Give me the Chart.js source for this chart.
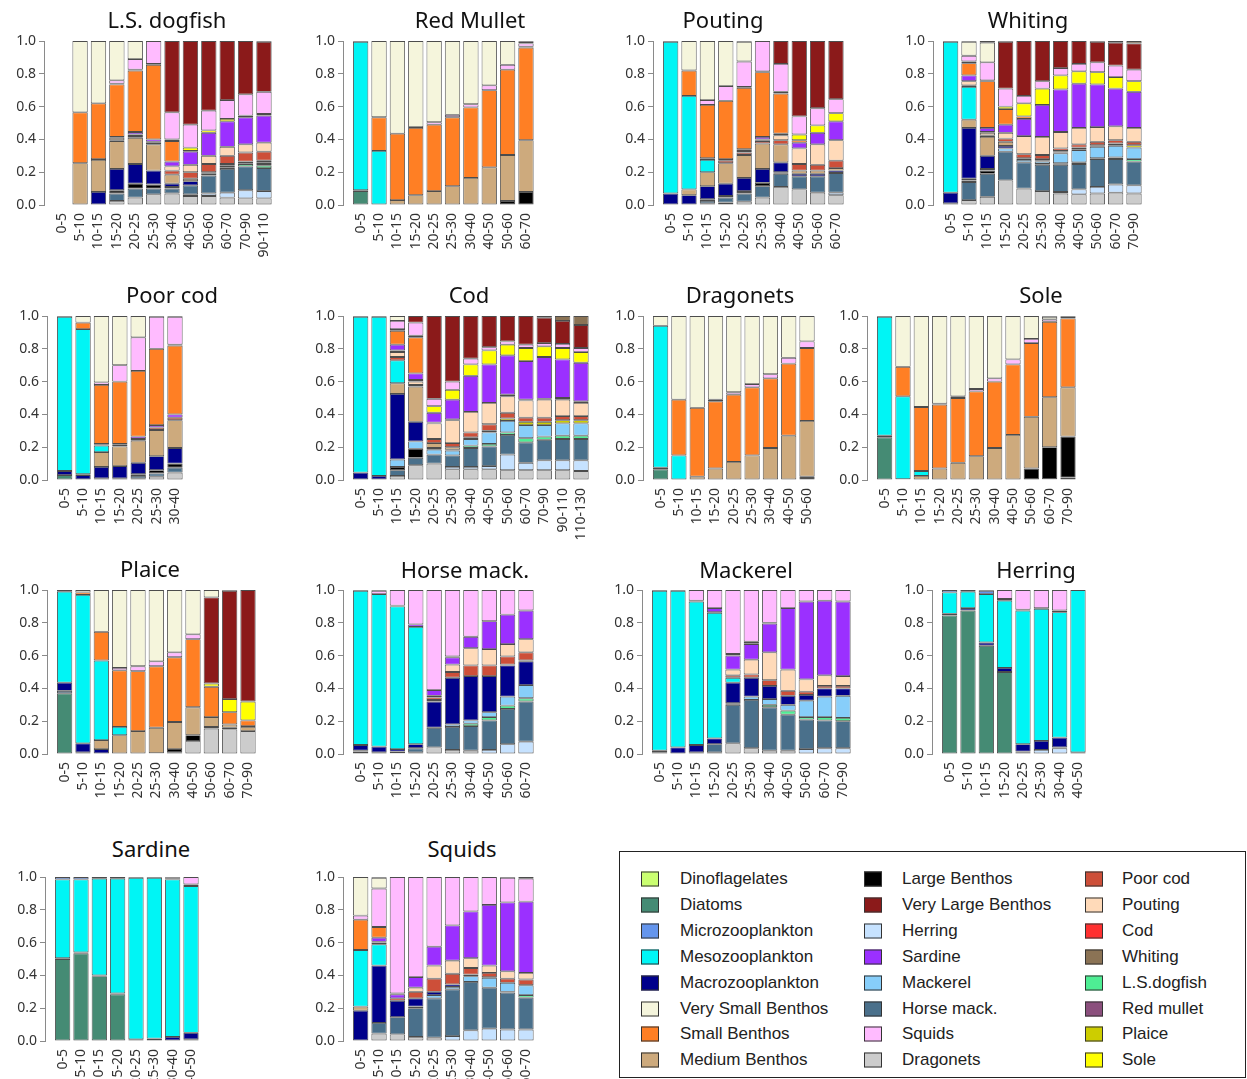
<!DOCTYPE html>
<html>
<head>
<meta charset="utf-8">
<script src="https://cdn.jsdelivr.net/npm/chart.js@4.4.1/dist/chart.umd.min.js"></script>
<style>
  html, body { margin: 0; padding: 0; background: #fff; }
  body { width: 1247px; height: 1079px; overflow: hidden; position: relative; }
  canvas { position: absolute; }
  .ptitle { position: absolute; transform: translate(-50%, -50%); font: 22px "Noto Sans", sans-serif; color: #111; white-space: nowrap; }
  #legend { position: absolute; left: 619px; top: 851px; width: 627px; height: 227px; border: 1px solid #222; box-sizing: border-box; }
  .lg-item { position: absolute; font: 17px "Liberation Sans", Arial, sans-serif; color: #222; white-space: nowrap; transform: translateY(-50%); }
  .lg-sw { position: absolute; width: 16px; height: 13px; border: 1px solid #333; transform: translateY(-50%); }
</style>
</head>
<body>
<div id="legend"></div>
<script>
// Prey groups, in the order they are stacked from the bottom of each bar
const preyOrder = ['COD','DIA','DIN','DRA','HER','HMA','LSD','LB','MAC','MAZ','MB','MEZ','MIZ','PLA','PC','POU','RM','SAR','SB','SOL','SQ','VLB','VSB','WHI'];
const preyNames = {
  DIN: 'Dinoflagelates', DIA: 'Diatoms', MIZ: 'Microzooplankton', MEZ: 'Mesozooplankton',
  MAZ: 'Macrozooplankton', VSB: 'Very Small Benthos', SB: 'Small Benthos', MB: 'Medium Benthos',
  LB: 'Large Benthos', VLB: 'Very Large Benthos', HER: 'Herring', SAR: 'Sardine',
  MAC: 'Mackerel', HMA: 'Horse mack.', SQ: 'Squids', DRA: 'Dragonets',
  PC: 'Poor cod', POU: 'Pouting', COD: 'Cod', WHI: 'Whiting',
  LSD: 'L.S.dogfish', RM: 'Red mullet', PLA: 'Plaice', SOL: 'Sole'
};
const preyColors = {
  DIN: '#caff70', DIA: '#458b74', MIZ: '#6495ed', MEZ: '#00f5f5',
  MAZ: '#00008b', VSB: '#f5f5dc', SB: '#ff7f24', MB: '#cdaa7d',
  LB: '#000000', VLB: '#8b1a1a', HER: '#c6e2ff', SAR: '#9b30ff',
  MAC: '#87cefa', HMA: '#4a708b', SQ: '#ffbbff', DRA: '#cccccc',
  PC: '#cd4f39', POU: '#ffdab9', COD: '#ff3030', WHI: '#8b7355',
  LSD: '#4eee94', RM: '#8b4f7d', PLA: '#cdcd00', SOL: '#ffff00'
};
// Legend layout: three columns of eight
const legendColumns = [
  ['DIN','DIA','MIZ','MEZ','MAZ','VSB','SB','MB'],
  ['LB','VLB','HER','SAR','MAC','HMA','SQ','DRA'],
  ['PC','POU','COD','WHI','LSD','RM','PLA','SOL']
];

// Predator length classes (cm) and diet proportions per class
const dogfishBins = ['0-5','5-10','10-15','15-20','20-25','25-30','30-40','40-50','50-60','60-70','70-90','90-110'];
const dogfishDiet = [
  {},
  {MB:.255, SB:.31, VSB:.435},
  {MAZ:.08, MB:.195, RM:.005, SB:.34, VSB:.38},
  {DRA:.025, HMA:.045, LB:.02, MAZ:.13, MB:.17, PC:.005, POU:.015, SAR:.005, SB:.32, SOL:.005, SQ:.02, VSB:.24},
  {DRA:.045, HMA:.055, LB:.03, MAZ:.12, MB:.16, PC:.01, POU:.01, SAR:.015, SB:.375, SOL:.005, SQ:.065, VSB:.11},
  {DRA:.065, HMA:.035, LB:.025, MAZ:.085, MB:.16, PC:.01, POU:.005, SAR:.015, SB:.455, SOL:.005, SQ:.14},
  {DRA:.07, HMA:.03, LB:.01, MAZ:.02, MB:.055, PC:.025, POU:.025, SAR:.03, SB:.125, SOL:.01, SQ:.165, VLB:.435},
  {DRA:.055, HER:.01, HMA:.055, MAZ:.025, MB:.015, PC:.04, POU:.045, SAR:.08, SB:.005, SOL:.02, SQ:.14, VLB:.51},
  {DRA:.055, HER:.015, HMA:.11, MAZ:.01, MB:.01, PC:.05, POU:.05, SAR:.14, SOL:.015, SQ:.12, VLB:.425},
  {DRA:.045, HER:.03, HMA:.145, LSD:.01, MAZ:.01, MB:.01, PC:.05, POU:.055, SAR:.155, SOL:.015, SQ:.115, VLB:.36},
  {DRA:.04, HER:.05, HMA:.145, LSD:.015, MAZ:.005, MB:.01, PC:.055, POU:.05, SAR:.165, SOL:.01, SQ:.13, VLB:.325},
  {DRA:.04, HER:.045, HMA:.14, LSD:.015, MAC:.01, MAZ:.01, MB:.01, PC:.055, POU:.055, SAR:.165, SOL:.01, SQ:.135, VLB:.305, WHI:.005}
];

const redMulletBins = ['0-5','5-10','10-15','15-20','20-25','25-30','30-40','40-50','50-60','60-70'];
const redMulletDiet = [
  {DIA:.085, MAZ:.005, MEZ:.905, MIZ:.005},
  {MEZ:.33, SB:.205, VSB:.465},
  {MB:.03, SB:.405, VSB:.565},
  {MB:.06, SB:.41, SQ:.005, VSB:.525},
  {MB:.085, SB:.405, SQ:.015, VSB:.495},
  {MB:.115, SB:.42, SQ:.015, VSB:.45},
  {MB:.165, SB:.43, SQ:.02, VSB:.385},
  {MB:.23, SB:.47, SQ:.03, VSB:.27},
  {LB:.025, MB:.28, SB:.52, SQ:.03, VSB:.145},
  {LB:.08, MB:.315, SB:.565, SOL:.005, SQ:.02, VSB:.01, WHI:.005}
];

const poutingBins = ['0-5','5-10','10-15','15-20','20-25','25-30','30-40','40-50','50-60','60-70'];
const poutingDiet = [
  {MAZ:.07, MEZ:.925, MIZ:.005},
  {MAZ:.06, MB:.035, MEZ:.57, SB:.155, VSB:.18},
  {DRA:.01, HMA:.015, LB:.01, MAZ:.08, MB:.085, MEZ:.075, PC:.005, SAR:.005, SB:.325, SQ:.03, VSB:.36},
  {DRA:.015, HMA:.03, LB:.01, MAZ:.075, MB:.125, PC:.015, RM:.005, SAR:.005, SB:.355, SQ:.09, VSB:.275},
  {DRA:.02, HMA:.05, LB:.015, MAZ:.08, MB:.14, PC:.015, RM:.01, SAR:.01, SB:.375, SOL:.005, SQ:.155, VSB:.12, WHI:.005},
  {DRA:.045, HMA:.07, LB:.02, MAZ:.085, MB:.155, PC:.015, POU:.005, RM:.005, SAR:.015, SB:.395, SOL:.005, SQ:.185},
  {DRA:.11, HMA:.08, LB:.01, MAZ:.06, MB:.11, PC:.025, POU:.03, SAR:.01, SB:.245, SOL:.01, SQ:.17, VLB:.14},
  {DRA:.095, HMA:.08, MAZ:.015, MB:.02, PC:.04, POU:.095, SAR:.035, SB:.015, SOL:.035, SQ:.11, VLB:.46},
  {DRA:.075, HMA:.10, MAZ:.015, MB:.02, PC:.035, POU:.125, SAR:.07, SOL:.045, SQ:.105, VLB:.41},
  {DRA:.06, HER:.015, HMA:.12, MAZ:.015, MB:.015, PC:.045, POU:.125, SAR:.115, SOL:.05, SQ:.085, VLB:.355}
];

const whitingBins = ['0-5','5-10','10-15','15-20','20-25','25-30','30-40','40-50','50-60','60-70','70-90'];
const whitingDiet = [
  {HMA:.01, MAZ:.065, MEZ:.92, MIZ:.005},
  {DRA:.03, HMA:.11, LB:.01, MAC:.01, MAZ:.31, MB:.05, MEZ:.20, PC:.01, POU:.025, SAR:.035, SB:.075, SOL:.01, SQ:.035, VSB:.085, WHI:.005},
  {DRA:.05, HMA:.14, LB:.02, MAC:.01, MAZ:.08, MB:.115, PC:.01, POU:.015, RM:.005, SAR:.025, SB:.285, SOL:.005, SQ:.11, VSB:.12, WHI:.01},
  {DRA:.15, HMA:.175, MAC:.02, MAZ:.015, MB:.025, PC:.02, POU:.035, SAR:.05, SB:.095, SOL:.015, SQ:.11, VLB:.285, WHI:.005},
  {DRA:.10, HMA:.16, MAC:.015, MB:.01, PC:.025, POU:.11, SAR:.105, SB:.015, SOL:.08, SQ:.045, VLB:.335},
  {DRA:.085, HMA:.16, LSD:.005, MAC:.015, MAZ:.005, MB:.01, PC:.025, POU:.11, SAR:.195, SOL:.10, SQ:.045, VLB:.245},
  {DRA:.07, HER:.01, HMA:.165, LSD:.01, MAC:.06, MAZ:.005, MB:.005, PLA:.005, PC:.015, POU:.10, SAR:.26, SOL:.085, SQ:.045, VLB:.165},
  {DRA:.065, HER:.03, HMA:.155, LSD:.01, MAC:.075, MB:.005, PLA:.01, PC:.02, POU:.10, SAR:.27, SOL:.075, SQ:.045, VLB:.14},
  {DRA:.07, HER:.04, HMA:.17, LSD:.005, MAC:.07, PLA:.01, PC:.02, POU:.09, SAR:.26, SOL:.075, SQ:.06, VLB:.125, WHI:.005},
  {DRA:.075, HER:.05, HMA:.155, LSD:.01, MAC:.07, MB:.005, PLA:.01, PC:.02, POU:.085, SAR:.23, SOL:.07, SQ:.07, VLB:.14, WHI:.01},
  {DRA:.07, HER:.05, HMA:.145, LSD:.015, MAC:.07, PLA:.015, PC:.02, POU:.085, SAR:.22, SOL:.065, SQ:.07, VLB:.16, WHI:.015}
];

const poorCodBins = ['0-5','5-10','10-15','15-20','20-25','25-30','30-40'];
const poorCodDiet = [
  {DIA:.03, MAZ:.025, MEZ:.94, MIZ:.005},
  {MAZ:.03, MB:.005, MEZ:.885, SB:.04, VSB:.04},
  {DRA:.01, MAZ:.07, MB:.09, MEZ:.04, MIZ:.005, PC:.005, SB:.36, SQ:.015, VSB:.405},
  {HMA:.01, MAZ:.075, MB:.12, PC:.01, SAR:.005, SB:.38, SQ:.10, VSB:.30},
  {DRA:.01, HMA:.015, LB:.01, MAZ:.07, MB:.135, PC:.01, SAR:.015, SB:.40, SQ:.205, VSB:.13},
  {DRA:.02, HMA:.02, LB:.02, MAZ:.085, MB:.16, PC:.015, SAR:.015, SB:.465, SQ:.195, VLB:.005},
  {DRA:.045, HMA:.03, LB:.025, MAZ:.095, MB:.17, PC:.015, SAR:.02, SB:.42, SOL:.005, SQ:.17, VLB:.005}
];

const codBins = ['0-5','5-10','10-15','15-20','20-25','25-30','30-40','40-50','50-60','60-70','70-90','90-110','110-130'];
const codDiet = [
  {MAZ:.045, MEZ:.95, MIZ:.005},
  {MAZ:.025, MEZ:.97, MIZ:.005},
  {DRA:.025, HMA:.035, LB:.02, MAC:.045, MAZ:.40, MB:.065, MEZ:.14, PC:.02, POU:.03, RM:.01, SAR:.035, SB:.085, SOL:.01, SQ:.05, VSB:.03},
  {DRA:.09, HMA:.045, LB:.055, MAC:.045, MAZ:.12, MB:.215, PC:.01, POU:.02, RM:.01, SAR:.04, SB:.22, SOL:.01, SQ:.08, VLB:.04},
  {DRA:.10, HMA:.055, MAC:.03, MAZ:.01, MB:.03, PC:.025, POU:.095, RM:.005, SAR:.06, SOL:.04, SQ:.045, VLB:.505},
  {DRA:.065, HER:.015, HMA:.07, MAC:.03, MAZ:.005, MB:.015, PC:.025, POU:.14, RM:.005, SAR:.12, SOL:.06, SQ:.05, VLB:.40},
  {DRA:.065, HER:.015, HMA:.115, LSD:.015, MAC:.04, MB:.01, PC:.03, POU:.125, SAR:.22, SOL:.07, SQ:.035, VLB:.26},
  {DRA:.065, HER:.02, HMA:.12, LSD:.015, MAC:.07, PLA:.01, PC:.04, POU:.13, SAR:.235, SOL:.085, SQ:.02, VLB:.19},
  {DRA:.06, HER:.095, HMA:.12, LSD:.015, MAC:.07, PLA:.015, PC:.035, POU:.10, RM:.01, SAR:.24, SOL:.065, SQ:.02, VLB:.155},
  {DRA:.06, HER:.045, HMA:.125, LSD:.025, MAC:.08, PLA:.02, PC:.025, POU:.105, RM:.005, SAR:.235, SOL:.08, SQ:.02, VLB:.175},
  {DRA:.06, HER:.06, HMA:.125, LSD:.02, MAC:.07, PLA:.02, PC:.025, POU:.11, RM:.005, SAR:.255, SOL:.065, SQ:.02, VLB:.155, WHI:.01},
  {DRA:.06, HER:.06, HMA:.13, LSD:.02, MAC:.075, PLA:.02, PC:.025, POU:.10, RM:.01, SAR:.235, SOL:.07, SQ:.025, VLB:.14, WHI:.03},
  {DRA:.055, HER:.065, HMA:.13, LSD:.02, MAC:.075, PLA:.02, PC:.025, POU:.08, RM:.01, SAR:.235, SOL:.065, SQ:.025, VLB:.14, WHI:.055}
];

const dragonetsBins = ['0-5','5-10','10-15','15-20','20-25','25-30','30-40','40-50','50-60'];
const dragonetsDiet = [
  {DIA:.065, MAZ:.01, MEZ:.865, VSB:.06},
  {MEZ:.15, SB:.34, VSB:.51},
  {MB:.02, SB:.42, VSB:.56},
  {MB:.07, SB:.41, SQ:.01, VSB:.51},
  {MB:.11, SB:.41, SQ:.015, VSB:.465},
  {MB:.15, SB:.415, SQ:.02, VSB:.415},
  {MB:.195, SB:.425, SQ:.025, VSB:.355},
  {MB:.27, SB:.44, SQ:.035, VSB:.255},
  {LB:.02, MB:.34, SB:.445, SQ:.04, VSB:.155}
];

const soleBins = ['0-5','5-10','10-15','15-20','20-25','25-30','30-40','40-50','50-60','60-70','70-90'];
const soleDiet = [
  {DIA:.26, MAZ:.01, MEZ:.725, MIZ:.005},
  {MAZ:.005, MEZ:.505, SB:.18, VSB:.31},
  {MB:.025, MEZ:.03, SB:.39, VSB:.555},
  {MB:.07, SB:.39, SQ:.005, VSB:.535},
  {MB:.105, SB:.395, SQ:.01, VSB:.49},
  {MB:.145, SB:.395, SQ:.015, VSB:.445},
  {MB:.195, SB:.405, SQ:.02, VSB:.38},
  {MB:.275, SB:.43, SQ:.03, VSB:.265},
  {LB:.07, MB:.315, SB:.45, SQ:.025, VSB:.14},
  {DRA:.005, LB:.195, MB:.305, SB:.46, SQ:.015, VSB:.015, WHI:.005},
  {DRA:.015, LB:.25, MB:.30, SB:.42, SQ:.01, VSB:.005}
];

const plaiceBins = ['0-5','5-10','10-15','15-20','20-25','25-30','30-40','40-50','50-60','60-70','70-90'];
const plaiceDiet = [
  {DIA:.37, HMA:.015, MAZ:.05, MEZ:.555, MIZ:.01},
  {HMA:.01, MAZ:.055, MEZ:.905, SB:.015, VSB:.015},
  {MAZ:.03, MB:.055, MEZ:.485, SB:.175, VSB:.255},
  {MB:.115, MEZ:.05, SB:.345, SQ:.015, VSB:.475},
  {MB:.14, SB:.365, SQ:.03, VSB:.465},
  {LB:.005, MB:.155, SB:.375, SQ:.03, VSB:.435},
  {DRA:.01, LB:.02, MB:.165, SB:.395, SQ:.03, VSB:.38},
  {DRA:.08, LB:.035, MB:.17, SB:.415, SQ:.03, VSB:.27},
  {DRA:.155, LB:.01, MB:.06, SB:.185, SOL:.02, VLB:.525, VSB:.045},
  {DRA:.15, LB:.01, MB:.02, SB:.075, SOL:.08, VLB:.66, VSB:.005},
  {DRA:.14, MB:.025, PC:.005, SB:.035, SOL:.115, VLB:.68}
];

const horseMackBins = ['0-5','5-10','10-15','15-20','20-25','25-30','30-40','40-50','50-60','60-70'];
const horseMackDiet = [
  {DIA:.015, HMA:.005, MAZ:.035, MEZ:.94, MIZ:.005},
  {HMA:.01, MAZ:.035, MEZ:.93, SQ:.02, VLB:.005},
  {DRA:.005, HMA:.01, MAZ:.015, MEZ:.87, SAR:.005, SQ:.095},
  {DRA:.01, HMA:.025, MAZ:.025, MEZ:.715, SAR:.015, SQ:.21},
  {DRA:.04, HMA:.12, MAZ:.16, MEZ:.01, PC:.015, POU:.01, SAR:.035, SQ:.61},
  {DRA:.025, HMA:.14, MAC:.015, MAZ:.285, PC:.035, POU:.045, SAR:.045, SB:.005, SQ:.405},
  {DRA:.02, HMA:.15, LSD:.015, MAC:.02, MAZ:.27, PC:.065, POU:.105, SAR:.07, SQ:.285},
  {HER:.025, HMA:.18, LSD:.02, MAC:.03, MAZ:.22, PC:.065, POU:.10, SAR:.17, SQ:.19},
  {HER:.06, HMA:.215, LSD:.02, MAC:.055, MAZ:.19, MB:.005, PC:.05, POU:.075, SAR:.18, SQ:.15},
  {HER:.075, HMA:.245, LSD:.02, MAC:.08, MAZ:.145, MB:.005, PC:.05, POU:.08, SAR:.175, SQ:.125}
];

const mackerelBins = ['0-5','5-10','10-15','15-20','20-25','25-30','30-40','40-50','50-60','60-70','70-90'];
const mackerelDiet = [
  {HMA:.01, MAZ:.01, MEZ:.975, MIZ:.005},
  {MAZ:.04, MEZ:.955, MIZ:.005},
  {HMA:.01, MAZ:.045, MEZ:.875, SAR:.005, SQ:.065},
  {DRA:.01, HMA:.05, MAZ:.035, MEZ:.765, POU:.005, SAR:.025, SQ:.11},
  {DRA:.065, HMA:.235, MAC:.01, MAZ:.125, MEZ:.03, PC:.015, POU:.035, SAR:.085, SOL:.01, SQ:.39},
  {DRA:.035, HMA:.295, MAC:.02, MAZ:.115, PC:.02, POU:.09, SAR:.095, SB:.005, SOL:.01, SQ:.315},
  {DRA:.02, HMA:.265, LSD:.015, MAC:.035, MAZ:.08, PC:.035, POU:.17, SAR:.175, SB:.005, SQ:.20},
  {DRA:.02, HMA:.22, LSD:.025, MAC:.035, MAZ:.055, PC:.03, POU:.13, SAR:.375, SQ:.11},
  {HER:.03, HMA:.18, LSD:.015, MAC:.10, MAZ:.035, PC:.02, POU:.075, SAR:.475, SQ:.07},
  {HER:.035, HMA:.17, LSD:.02, MAC:.125, MAZ:.05, PC:.015, POU:.065, SAR:.455, SQ:.065},
  {HER:.035, HMA:.165, LSD:.02, MAC:.135, MAZ:.045, PC:.015, POU:.06, SAR:.455, SQ:.07}
];

const herringBins = ['0-5','5-10','10-15','15-20','20-25','25-30','30-40','40-50'];
const herringDiet = [
  {DIA:.845, MAZ:.01, MEZ:.13, MIZ:.015},
  {DIA:.875, MAZ:.015, MEZ:.10, MIZ:.01},
  {DIA:.66, MAZ:.02, MEZ:.295, MIZ:.02, SQ:.005},
  {DIA:.50, MAZ:.025, MEZ:.41, MIZ:.01, SQ:.055},
  {HER:.01, HMA:.005, MAZ:.045, MEZ:.815, MIZ:.005, SQ:.12},
  {HER:.025, MAZ:.055, MEZ:.805, MIZ:.005, SQ:.11},
  {HER:.035, HMA:.005, MAZ:.06, MEZ:.765, MIZ:.01, SQ:.125},
  {MAZ:.01, MEZ:.99}
];

const sardineBins = ['0-5','5-10','10-15','15-20','20-25','25-30','30-40','40-50'];
const sardineDiet = [
  {DIA:.50, MAZ:.005, MEZ:.48, MIZ:.015},
  {DIA:.535, MAZ:.005, MEZ:.445, MIZ:.015},
  {DIA:.395, MAZ:.005, MEZ:.59, MIZ:.01},
  {DIA:.285, MAZ:.005, MEZ:.70, MIZ:.01},
  {MAZ:.01, MEZ:.985, MIZ:.005},
  {MAZ:.015, MEZ:.98, MIZ:.005},
  {MAZ:.025, MEZ:.96, MIZ:.005, SQ:.005, VLB:.005},
  {HMA:.01, MAZ:.04, MEZ:.895, MIZ:.01, SQ:.045}
];

const squidsBins = ['0-5','5-10','10-15','15-20','20-25','25-30','30-40','40-50','50-60','60-70'];
const squidsDiet = [
  {MAZ:.185, MB:.025, MEZ:.345, SB:.185, SQ:.025, VSB:.235},
  {DRA:.045, HMA:.065, MAZ:.35, MEZ:.13, PC:.01, POU:.005, SAR:.025, SB:.065, SQ:.235, VSB:.065, WHI:.005},
  {DRA:.04, HMA:.105, MAZ:.10, PC:.015, SAR:.025, SB:.005, SQ:.71},
  {DRA:.025, HMA:.175, MAC:.01, MAZ:.05, PC:.04, POU:.025, SAR:.065, SQ:.61},
  {DRA:.02, HMA:.24, MAC:.02, MAZ:.02, PC:.08, POU:.08, SAR:.115, SQ:.425},
  {HER:.03, HMA:.285, MAC:.015, MAZ:.015, PC:.065, POU:.08, SAR:.215, SQ:.295},
  {HER:.065, HMA:.295, MAC:.035, MAZ:.01, PC:.04, POU:.06, SAR:.285, SQ:.21},
  {HER:.075, HMA:.25, MAC:.06, MAZ:.005, PC:.025, POU:.045, SAR:.37, SQ:.17},
  {HER:.07, HMA:.225, LSD:.005, MAC:.055, PC:.025, POU:.045, SAR:.42, SQ:.15, VLB:.005},
  {HER:.07, HMA:.195, LSD:.015, MAC:.06, PC:.035, POU:.04, SAR:.435, SQ:.14, WHI:.01}
];

const yTicks = [0, 0.2, 0.4, 0.6, 0.8, 1.0];

// Panel placement on the page (pixels)
const panels = [
  {title: 'L.S. dogfish', bins: dogfishBins, diet: dogfishDiet, axisX: 44, top: 41, tx: 167, ty: 19},
  {title: 'Red Mullet', bins: redMulletBins, diet: redMulletDiet, axisX: 343, top: 41, tx: 470, ty: 19},
  {title: 'Pouting', bins: poutingBins, diet: poutingDiet, axisX: 653, top: 41, tx: 723, ty: 19},
  {title: 'Whiting', bins: whitingBins, diet: whitingDiet, axisX: 933, top: 41, tx: 1028, ty: 19},
  {title: 'Poor cod', bins: poorCodBins, diet: poorCodDiet, axisX: 47, top: 316, tx: 172, ty: 294},
  {title: 'Cod', bins: codBins, diet: codDiet, axisX: 343, top: 316, tx: 469, ty: 294},
  {title: 'Dragonets', bins: dragonetsBins, diet: dragonetsDiet, axisX: 643, top: 316, tx: 740, ty: 294},
  {title: 'Sole', bins: soleBins, diet: soleDiet, axisX: 867, top: 316, tx: 1041, ty: 294},
  {title: 'Plaice', bins: plaiceBins, diet: plaiceDiet, axisX: 47, top: 590, tx: 150, ty: 568},
  {title: 'Horse mack.', bins: horseMackBins, diet: horseMackDiet, axisX: 343, top: 590, tx: 465, ty: 569},
  {title: 'Mackerel', bins: mackerelBins, diet: mackerelDiet, axisX: 642, top: 590, tx: 746, ty: 569},
  {title: 'Herring', bins: herringBins, diet: herringDiet, axisX: 932, top: 590, tx: 1036, ty: 569},
  {title: 'Sardine', bins: sardineBins, diet: sardineDiet, axisX: 45, top: 877, tx: 151, ty: 848},
  {title: 'Squids', bins: squidsBins, diet: squidsDiet, axisX: 343, top: 877, tx: 462, ty: 848}
];

const SLOT = 18.35;          // pixels per length class
const X_MIN = -0.962;        // gap between the y axis and the first bar
const PLOT_H = 164;
const Y_AXIS_W = 45;
const X_AXIS_H = 70;
const PAD_T = 14;
const PAD_R = 26;
const FONT = '"Noto Sans", sans-serif';

function buildDatasets(diet) {
  const sets = [];
  preyOrder.forEach(code => {
    const pts = [];
    diet.forEach((bar, i) => { if (bar[code]) pts.push({x: i, y: bar[code]}); });
    if (pts.length) {
      sets.push({
        label: preyNames[code],
        data: pts,
        backgroundColor: preyColors[code],
        borderColor: 'rgba(45,45,45,0.85)',
        borderWidth: 0.9,
        borderSkipped: false,
        categoryPercentage: 1,
        barPercentage: 1 / 1.2,
        clip: 3
      });
    }
  });
  return sets;
}

panels.forEach(p => {
  const n = p.bins.length;
  const xMax = n - 0.4;
  const plotW = (xMax - X_MIN) * SLOT;
  const cw = Math.round(Y_AXIS_W + plotW + PAD_R);
  const ch = PAD_T + PLOT_H + X_AXIS_H;

  const canvas = document.createElement('canvas');
  canvas.width = cw;
  canvas.height = ch;
  canvas.style.left = (p.axisX - Y_AXIS_W) + 'px';
  canvas.style.top = (p.top - PAD_T) + 'px';
  canvas.style.width = cw + 'px';
  canvas.style.height = ch + 'px';
  document.body.appendChild(canvas);

  const t = document.createElement('div');
  t.className = 'ptitle';
  t.textContent = p.title;
  t.style.left = p.tx + 'px';
  t.style.top = p.ty + 'px';
  document.body.appendChild(t);

  new Chart(canvas, {
    type: 'bar',
    data: {datasets: buildDatasets(p.diet)},
    options: {
      responsive: false,
      animation: false,
      devicePixelRatio: 1,
      layout: {padding: {top: PAD_T, right: PAD_R, left: 0, bottom: 0}},
      plugins: {legend: {display: false}, tooltip: {enabled: false}, title: {display: false}},
      scales: {
        x: {
          type: 'linear',
          stacked: true,
          min: X_MIN,
          max: xMax,
          offset: false,
          grid: {display: false, drawTicks: false},
          border: {display: false},
          afterBuildTicks: ax => { ax.ticks = p.bins.map((_, i) => ({value: i})); },
          afterFit: ax => { ax.height = X_AXIS_H; },
          ticks: {
            autoSkip: false, minRotation: 90, maxRotation: 90, padding: 8,
            color: '#333', font: {family: FONT, size: 14},
            callback: v => p.bins[v] !== undefined ? p.bins[v] : ''
          }
        },
        y: {
          stacked: true,
          min: 0,
          max: 1,
          afterBuildTicks: ax => { ax.ticks = yTicks.map(v => ({value: v})); },
          afterFit: ax => { ax.width = Y_AXIS_W; },
          ticks: {padding: 3, color: '#333', font: {family: FONT, size: 14}, callback: v => Number(v).toFixed(1)},
          grid: {drawOnChartArea: false, drawTicks: true, tickLength: 5, color: '#8a8a8a', lineWidth: 1},
          border: {display: true, color: '#8a8a8a', width: 1}
        }
      }
    }
  });
});

// Legend
const legend = document.getElementById('legend');
const colSwatchX = [21, 244, 465];
const colTextX = [60, 282, 502];
const rowY = [27, 53, 79, 105, 131, 157, 182, 208];
legendColumns.forEach((col, ci) => {
  col.forEach((code, ri) => {
    const sw = document.createElement('div');
    sw.className = 'lg-sw';
    sw.style.left = colSwatchX[ci] + 'px';
    sw.style.top = rowY[ri] + 'px';
    sw.style.background = preyColors[code];
    legend.appendChild(sw);
    const tx = document.createElement('div');
    tx.className = 'lg-item';
    tx.style.left = colTextX[ci] + 'px';
    tx.style.top = rowY[ri] + 'px';
    tx.textContent = preyNames[code];
    legend.appendChild(tx);
  });
});
</script>
</body>
</html>
